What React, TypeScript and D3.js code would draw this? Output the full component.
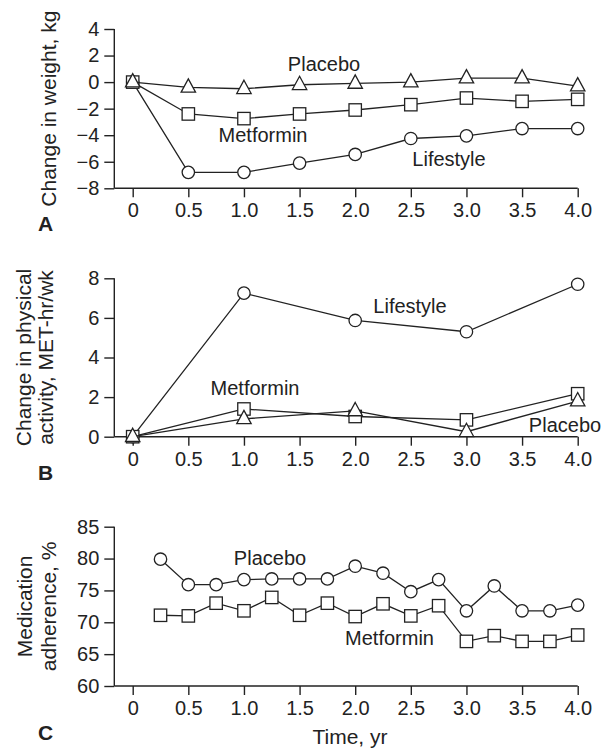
import React, { useEffect, useRef } from 'react';
import * as d3 from 'd3';

// time points (years)
const yearsA = [0, 0.5, 1.0, 1.5, 2.0, 2.5, 3.0, 3.5, 4.0];
const yearsB = [0, 1.0, 2.0, 3.0, 4.0];
const yearsC = [0.25, 0.5, 0.75, 1.0, 1.25, 1.5, 1.75, 2.0, 2.25, 2.5, 2.75, 3.0, 3.25, 3.5, 3.75, 4.0];
const xTicks = [0, 0.5, 1.0, 1.5, 2.0, 2.5, 3.0, 3.5, 4.0];

// A: change in weight, kg
const weightPlacebo = [0, -0.4, -0.5, -0.2, -0.1, 0, 0.3, 0.3, -0.3];
const weightMetformin = [0, -2.4, -2.75, -2.4, -2.1, -1.7, -1.2, -1.45, -1.3];
const weightLifestyle = [0, -6.8, -6.8, -6.1, -5.45, -4.25, -4.05, -3.5, -3.5];
const weightTicks = [4, 2, 0, -2, -4, -6, -8];

// B: change in physical activity, MET-hr/wk
const activityLifestyle = [0, 7.25, 5.87, 5.3, 7.7];
const activityMetformin = [0, 1.4, 1.02, 0.85, 2.17];
const activityPlacebo = [0, 0.9, 1.3, 0.25, 1.8];
const activityTicks = [0, 2, 4, 6, 8];

// C: medication adherence, %
const adherencePlacebo = [79.9, 75.9, 75.9, 76.7, 76.8, 76.8, 76.8, 78.8, 77.7, 74.8, 76.7, 71.8, 75.7, 71.8, 71.8, 72.7];
const adherenceMetformin = [71.1, 71.0, 73.0, 71.8, 73.9, 71.1, 73.0, 70.9, 72.9, 71.0, 72.6, 67.0, 67.9, 67.0, 67.0, 68.0];
const adherenceTicks = [60, 65, 70, 75, 80, 85];

const FONT = '"Liberation Sans", Arial, Helvetica, sans-serif';
const INK = '#222';

const App = () => {
  const svgRef = useRef(null);

  useEffect(() => {
    const svg = d3.select(svgRef.current);
    svg.selectAll('*').remove();

    const x = d3.scaleLinear().domain([0, 4]).range([132.7, 577.7]);
    const axisLeftX = 114.3;

    const panels = [
      {
        letter: 'A', letterY: 231,
        y: d3.scaleLinear().domain([-8, 4]).range([188.3, 29]),
        ticks: weightTicks,
        title: ['Change in weight, kg'], titleX: [56],
        series: [
          { name: 'Lifestyle', t: yearsA, v: weightLifestyle, mark: 'circle', lx: 449, ly: 165.5 },
          { name: 'Metformin', t: yearsA, v: weightMetformin, mark: 'square', lx: 263, ly: 141.5 },
          { name: 'Placebo', t: yearsA, v: weightPlacebo, mark: 'triangle', lx: 324, ly: 70.5 },
        ],
      },
      {
        letter: 'B', letterY: 480,
        y: d3.scaleLinear().domain([0, 8]).range([436.7, 278.3]),
        ticks: activityTicks,
        title: ['Change in physical', 'activity, MET-hr/wk'], titleX: [30.5, 52.5],
        series: [
          { name: 'Lifestyle', t: yearsB, v: activityLifestyle, mark: 'circle', lx: 410, ly: 313 },
          { name: 'Metformin', t: yearsB, v: activityMetformin, mark: 'square', lx: 255, ly: 395 },
          { name: 'Placebo', t: yearsB, v: activityPlacebo, mark: 'triangle', lx: 565, ly: 431.5 },
        ],
      },
      {
        letter: 'C', letterY: 740,
        y: d3.scaleLinear().domain([60, 85]).range([686, 526.7]),
        ticks: adherenceTicks,
        title: ['Medication', 'adherence, %'], titleX: [32, 55.5],
        series: [
          { name: 'Metformin', t: yearsC, v: adherenceMetformin, mark: 'square', lx: 389.5, ly: 645 },
          { name: 'Placebo', t: yearsC, v: adherencePlacebo, mark: 'circle', lx: 270, ly: 565 },
        ],
      },
    ];

    const fmtX = (d) => (d === 0 ? '0' : d3.format('.1f')(d));
    const fmtY = (d) => (d < 0 ? `\u2212${-d}` : `${d}`);

    panels.forEach((p) => {
      const g = svg.append('g');
      const [y0, y1] = p.y.range();

      // y axis
      const ya = g.append('g')
        .attr('transform', `translate(${axisLeftX},0)`)
        .call(d3.axisLeft(p.y).tickValues(p.ticks).tickFormat(fmtY).tickSize(10).tickPadding(5).tickSizeOuter(0));
      ya.select('.domain').remove();
      ya.append('line').attr('x1', 0).attr('x2', 0).attr('y1', y1).attr('y2', y0);

      // x axis
      const xa = g.append('g')
        .attr('transform', `translate(0,${y0})`)
        .call(d3.axisBottom(x).tickValues(xTicks).tickFormat(fmtX).tickSize(9).tickPadding(6).tickSizeOuter(0));
      xa.select('.domain').remove();
      xa.append('line').attr('x1', axisLeftX).attr('x2', x(4)).attr('y1', 0).attr('y2', 0);

      [ya, xa].forEach((a) => {
        a.selectAll('line').attr('stroke', INK).attr('stroke-width', 1.4);
        a.selectAll('text').attr('fill', INK).style('font-family', FONT).style('font-size', '20px');
      });

      // y title
      const cy = (y0 + y1) / 2;
      p.title.forEach((line, i) => {
        g.append('text')
          .attr('transform', `translate(${p.titleX[i]},${cy}) rotate(-90)`)
          .attr('text-anchor', 'middle')
          .attr('fill', INK)
          .style('font-family', FONT)
          .style('font-size', '21px')
          .text(line);
      });

      // panel letter
      g.append('text')
        .attr('x', 38).attr('y', p.letterY)
        .attr('fill', INK)
        .style('font-family', FONT)
        .style('font-size', '21px')
        .style('font-weight', 'bold')
        .text(p.letter);

      const line = d3.line().x((d) => x(d[0])).y((d) => p.y(d[1]));

      p.series.forEach((s) => {
        const pts = s.t.map((t, i) => [t, s.v[i]]);
        g.append('path')
          .attr('d', line(pts))
          .attr('fill', 'none')
          .attr('stroke', INK)
          .attr('stroke-width', 1.3);

        const m = g.append('g').selectAll('g').data(pts).enter().append('g')
          .attr('transform', (d) => `translate(${x(d[0])},${p.y(d[1])})`);
        if (s.mark === 'circle') {
          m.append('circle').attr('r', 6.2);
        } else if (s.mark === 'square') {
          m.append('rect').attr('x', -6.2).attr('y', -6.2).attr('width', 12.4).attr('height', 12.4);
        } else {
          m.append('path').attr('d', 'M0,-8.5L7.2,4.8L-7.2,4.8Z');
        }
        m.selectAll('*').attr('fill', '#fff').attr('stroke', INK).attr('stroke-width', 1.3);

        g.append('text')
          .attr('x', s.lx).attr('y', s.ly)
          .attr('text-anchor', 'middle')
          .attr('fill', INK)
          .style('font-family', FONT)
          .style('font-size', '20px')
          .text(s.name);
      });
    });

    // shared x title
    svg.append('text')
      .attr('x', 350).attr('y', 744)
      .attr('text-anchor', 'middle')
      .attr('fill', INK)
      .style('font-family', FONT)
      .style('font-size', '21px')
      .text('Time, yr');
  }, []);

  return (
    <svg
      ref={svgRef}
      width={610}
      height={752}
      style={{ position: 'absolute', left: 0, top: 0, background: '#fff' }}
    />
  );
};

export default App;
